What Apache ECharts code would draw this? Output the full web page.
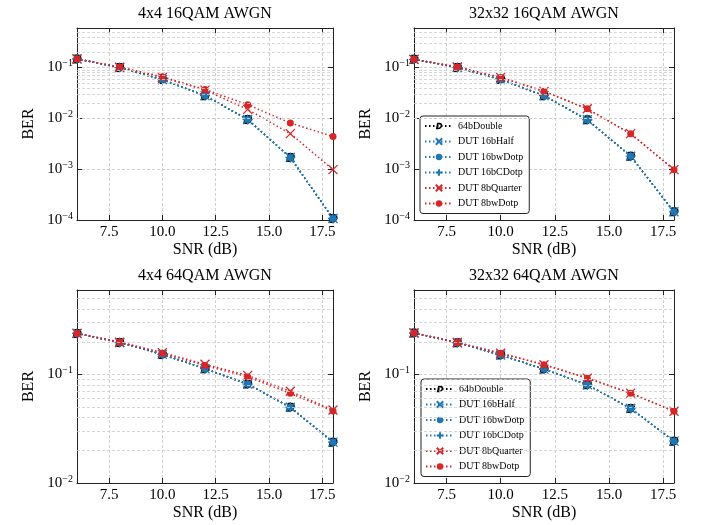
<!DOCTYPE html>
<html>
<head>
<meta charset="utf-8">
<script src="https://cdn.jsdelivr.net/npm/echarts@6/dist/echarts.min.js"></script>
<style>
html, body { margin: 0; padding: 0; background: #fff; }
#main { width: 702px; height: 525px; }
</style>
</head>
<body>
<div id="main"></div>
<script>
let myChart = echarts.init(document.getElementById('main'))

const serif = '"Liberation Serif", "DejaVu Serif", serif'
const blue = '#1f77b4'
const red = '#d62728'

// x values (SNR in dB)
const snr = [6, 8, 10, 12, 14, 16, 18]
const xTickLabels = [7.5, 10, 12.5, 15, 17.5]
const seriesNames = ['64bDouble', 'DUT 16bHalf', 'DUT 16bwDotp', 'DUT 16bCDotp', 'DUT 8bQuarter', 'DUT 8bwDotp']
const titles = ['4x4 16QAM AWGN', '32x32 16QAM AWGN', '4x4 64QAM AWGN', '32x32 64QAM AWGN']

// 4x4 16QAM
const ber4q16Blue = [0.148, 0.100, 0.058, 0.028, 0.0095, 0.0017, 1.07e-4]
const ber4q16Quarter = [0.148, 0.101, 0.064, 0.036, 0.015, 0.0050, 0.00098]
const ber4q16Wdotp8 = [0.148, 0.102, 0.066, 0.037, 0.0186, 0.0081, 0.0044]
// 32x32 16QAM
const ber32q16Blue = [0.145, 0.100, 0.058, 0.028, 0.0094, 0.0018, 1.45e-4]
const ber32q16Red = [0.145, 0.103, 0.064, 0.034, 0.0155, 0.0050, 0.00098]
// 4x4 64QAM
const ber4q64Blue = [0.239, 0.197, 0.153, 0.113, 0.0815, 0.0498, 0.0238]
const ber4q64Quarter = [0.239, 0.198, 0.159, 0.124, 0.098, 0.070, 0.047]
const ber4q64Wdotp8 = [0.239, 0.199, 0.157, 0.121, 0.095, 0.067, 0.046]
// 32x32 64QAM
const ber32q64Blue = [0.241, 0.196, 0.151, 0.112, 0.0804, 0.0486, 0.0243]
const ber32q64Red = [0.241, 0.197, 0.157, 0.123, 0.0925, 0.0673, 0.0458]

// per panel: [double, 16bHalf, 16bwDotp, 16bCDotp, 8bQuarter, 8bwDotp]
const panelData = [
    [ber4q16Blue, ber4q16Blue, ber4q16Blue, ber4q16Blue, ber4q16Quarter, ber4q16Wdotp8],
    [ber32q16Blue, ber32q16Blue, ber32q16Blue, ber32q16Blue, ber32q16Red, ber32q16Red],
    [ber4q64Blue, ber4q64Blue, ber4q64Blue, ber4q64Blue, ber4q64Quarter, ber4q64Wdotp8],
    [ber32q64Blue, ber32q64Blue, ber32q64Blue, ber32q64Blue, ber32q64Red, ber32q64Red]
]
const yRanges = [[1e-4, 0.6], [1e-4, 0.6], [1e-2, 0.6], [1e-2, 0.6]]

const grids = [
    {left: 77, top: 28, width: 256, height: 192},
    {left: 414, top: 28, width: 260, height: 192},
    {left: 77, top: 290, width: 256, height: 193},
    {left: 414, top: 290, width: 260, height: 193}
]

const symX = 'path://M0,0 L10,10 M10,0 L0,10'
const symPlus = 'path://M5,0 L5,10 M0,5 L10,5'
const symD = 'path://M2,0 L8,0 C12,0 14,3 13,6 C12,10 8,12 4,12 L-1,12 Z M4.5,3 L3.2,9 L5,9 C7,9 9,8 9.6,6 C10.2,4 9,3 7,3 Z'

const styles = [
    {color: '#000', symbol: symD, size: [9, 9], border: 0},
    {color: blue, symbol: symX, size: 9, border: 1.3},
    {color: blue, symbol: 'circle', size: 7, border: 0},
    {color: blue, symbol: symPlus, size: 10, border: 1.3},
    {color: red, symbol: symX, size: 9, border: 1.3},
    {color: red, symbol: 'circle', size: 7, border: 0}
]

const gridLine = {show: true, lineStyle: {color: '#c4c4c4', width: 0.8, type: [3, 2]}}

function logLabel(v) {
    const e = Math.log10(v)
    const r = Math.round(e)
    if (Math.abs(e - r) > 1e-6) return ''
    return '{b|10}{s|' + (r < 0 ? '\u2212' : '') + Math.abs(r) + '}'
}

function minorLines(lo, hi) {
    const out = []
    for (let e = Math.floor(Math.log10(lo)); e <= 0; e++) {
        for (let m = 2; m <= 9; m++) {
            const v = m * Math.pow(10, e)
            if (v > lo * 1.0001 && v < hi * 0.9999) out.push({yAxis: v})
        }
    }
    return out
}

let xAxes = [], yAxes = [], series = [], titleList = []

grids.forEach((g, i) => {
    titleList.push({
        text: titles[i],
        left: g.left + g.width / 2,
        top: g.top - 22,
        textAlign: 'center',
        padding: 0,
        textStyle: {fontFamily: serif, fontSize: 16, fontWeight: 'normal', color: '#000'}
    })
    xAxes.push({
        type: 'value', gridIndex: i, min: 6, max: 18, interval: 0.5, position: 'bottom',
        name: 'SNR (dB)', nameLocation: 'middle', nameGap: 22,
        nameTextStyle: {fontFamily: serif, fontSize: 16, color: '#000'},
        axisLine: {show: true, lineStyle: {color: '#222', width: 1}},
        axisTick: {show: true, inside: true, length: 5, customValues: xTickLabels, lineStyle: {color: '#222'}},
        axisLabel: {customValues: xTickLabels, margin: 5, fontFamily: serif, fontSize: 15, color: '#000',
            formatter: v => v.toFixed(1)},
        splitLine: gridLine
    })
    xAxes.push({
        type: 'value', gridIndex: i, min: 6, max: 18, interval: 0.5, position: 'top',
        axisLine: {show: true, lineStyle: {color: '#222', width: 1}},
        axisTick: {show: true, inside: true, length: 5, customValues: xTickLabels, lineStyle: {color: '#222'}},
        axisLabel: {show: false},
        splitLine: {show: false}
    })
    const yr = yRanges[i]
    yAxes.push({
        type: 'log', gridIndex: i, min: yr[0], max: yr[1], position: 'left',
        name: 'BER', nameLocation: 'middle', nameGap: 40,
        nameTextStyle: {fontFamily: serif, fontSize: 16, color: '#000'},
        axisLine: {show: true, lineStyle: {color: '#222', width: 1}},
        axisTick: {show: true, inside: true, length: 5, lineStyle: {color: '#222'}},
        axisLabel: {
            margin: 4, formatter: logLabel, showMaxLabel: true, showMinLabel: true,
            rich: {
                b: {fontFamily: serif, fontSize: 15, color: '#000', lineHeight: 18},
                s: {fontFamily: serif, fontSize: 10, color: '#000', lineHeight: 10, verticalAlign: 'top'}
            }
        },
        splitLine: gridLine
    })
    yAxes.push({
        type: 'log', gridIndex: i, min: yr[0], max: yr[1], position: 'right',
        axisLine: {show: true, lineStyle: {color: '#222', width: 1}},
        axisTick: {show: true, inside: true, length: 5, lineStyle: {color: '#222'}},
        axisLabel: {show: false},
        splitLine: {show: false}
    })

    panelData[i].forEach((vals, k) => {
        const st = styles[k]
        let s = {
            name: seriesNames[k],
            type: 'line',
            xAxisIndex: 2 * i,
            yAxisIndex: 2 * i,
            data: snr.map((x, j) => [x, vals[j]]),
            symbol: st.symbol,
            symbolSize: st.size,
            showAllSymbol: true,
            clip: true,
            color: st.color,
            lineStyle: {color: st.color, width: 1.5, type: [1.5, 2.5]},
            itemStyle: {color: st.color, borderColor: st.color, borderWidth: st.border},
            emphasis: {disabled: true},
            animation: false
        }
        if (k === 0) {
            s.markLine = {
                silent: true,
                symbol: ['none', 'none'],
                label: {show: false},
                lineStyle: {color: '#cdcdcd', width: 0.8, type: [3, 2]},
                data: minorLines(yr[0], yr[1]),
                animation: false
            }
        }
        series.push(s)
    })
})

const legendBase = {
    orient: 'vertical',
    data: seriesNames,
    itemWidth: 28,
    itemHeight: 8,
    itemGap: 5.5,
    padding: [5, 6, 5, 4],
    backgroundColor: 'rgba(255,255,255,0.9)',
    borderColor: '#222',
    borderWidth: 1,
    borderRadius: 3,
    selectedMode: false,
    textStyle: {fontFamily: serif, fontSize: 10, color: '#000'}
}

let option = {
    backgroundColor: '#fff',
    animation: false,
    title: titleList,
    grid: grids,
    xAxis: xAxes,
    yAxis: yAxes,
    legend: [
        Object.assign({}, legendBase, {left: 420, top: 116}),
        Object.assign({}, legendBase, {left: 421, top: 379})
    ],
    series: series
}

myChart.setOption(option)
</script>
</body>
</html>
